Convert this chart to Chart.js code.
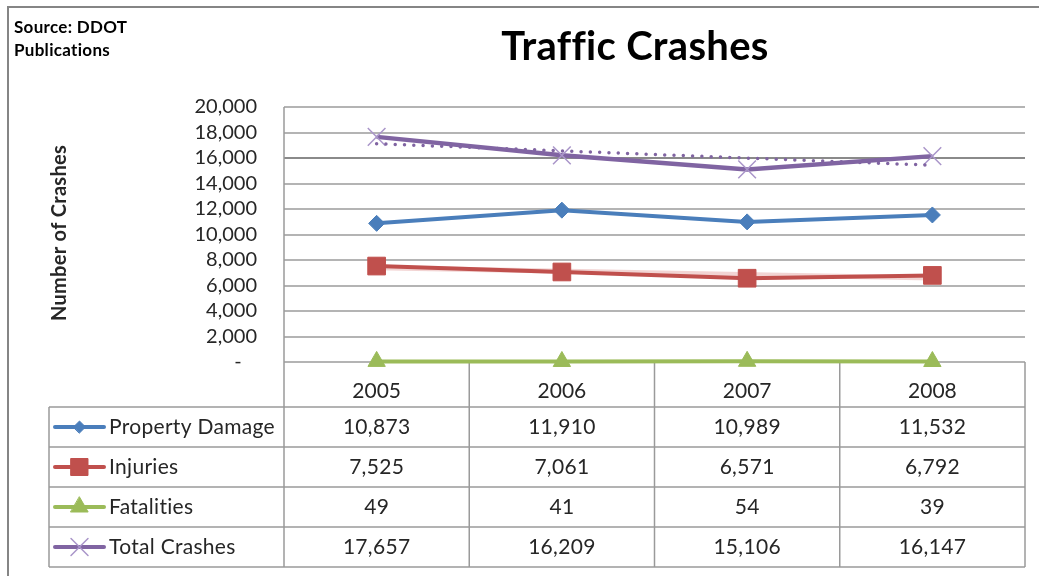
<!DOCTYPE html>
<html>
<head>
<meta charset="utf-8">
<title>Traffic Crashes</title>
<script src="https://cdn.jsdelivr.net/npm/chart.js"></script>
<style>
  html, body { margin: 0; padding: 0; background: #ffffff; }
  #wrap { width: 1039px; height: 576px; }
</style>
</head>
<body>
<div id="wrap"><canvas id="crashChart" width="1039" height="576"></canvas></div>
<script>
// Data
const years = ['2005', '2006', '2007', '2008'];
const propertyDamage = [10873, 11910, 10989, 11532];
const injuries = [7525, 7061, 6571, 6792];
const fatalities = [49, 41, 54, 39];
const totalCrashes = [17657, 16209, 15106, 16147];

// Trendline end points, middle left open
const totalTrend = [17120, null, null, 15430];
const injuriesTrend = [7390, null, null, 6590];

const yMin = 0;
const yMax = 20000;
const yStep = 2000;

const TEXT = '#262626';
const FONT = 'Lato, "Open Sans", sans-serif';

/**
 * Rows of the data table under the plot (also the legend)
 */
const SERIES = [
  { name: 'Property Damage', data: propertyDamage, color: '#4a7ebb', point: 'rectRot', radius: 8, keyRadius: 6 },
  { name: 'Injuries', data: injuries, color: '#c0504d', point: 'rect', radius: 12.5, keyRadius: 12 },
  { name: 'Fatalities', data: fatalities, color: '#9bbb59', point: 'triangle', radius: 10, keyRadius: 10 },
  { name: 'Total Crashes', data: totalCrashes, color: '#8064a2', point: 'crossRot', radius: 12.5, keyRadius: 12, markerColor: '#a995c9' },
];

const TABLE = { left: 49, top: 407, rowHeight: 40, keyX1: 55, keyX2: 104, labelX: 109 };

function fmt(v) {
  return v.toLocaleString('en-US');
}

function drawMarker(ctx, s, x, y, radius) {
  const opts = { pointStyle: s.point, radius: radius, rotation: 0, borderWidth: s.point === 'crossRot' ? 1.5 : 1 };
  ctx.save();
  ctx.fillStyle = s.color;
  ctx.strokeStyle = s.markerColor || s.color;
  ctx.lineWidth = opts.borderWidth;
  Chart.helpers.drawPoint(ctx, opts, x, y);
  ctx.restore();
}

/**
 * Frame, titles and the data table
 */
const sheetPlugin = {
  id: 'sheet',
  beforeDraw(chart) {
    const ctx = chart.ctx;
    ctx.save();
    ctx.fillStyle = '#ffffff';
    ctx.fillRect(0, 0, chart.width, chart.height);

    // outer frame (top and left visible)
    ctx.strokeStyle = '#858585';
    ctx.lineWidth = 2;
    ctx.beginPath();
    ctx.moveTo(8, 576);
    ctx.lineTo(8, 7);
    ctx.lineTo(1039, 7);
    ctx.stroke();

    // small spacing keeps "ffi"/"ti" from turning into ligatures
    ctx.letterSpacing = '0.3px';
    ctx.fillStyle = '#000000';
    ctx.textBaseline = 'alphabetic';
    ctx.textAlign = 'left';
    ctx.font = 'bold 17px ' + FONT;
    ctx.fillText('Source: DDOT', 14, 33);
    ctx.fillText('Publications', 14, 56);

    ctx.textAlign = 'center';
    ctx.font = 'bold 40px ' + FONT;
    ctx.fillText('Traffic Crashes', 635, 60);

    // y axis title
    ctx.translate(60, 233);
    ctx.rotate(-Math.PI / 2);
    ctx.font = 'bold 20px ' + FONT;
    ctx.textBaseline = 'middle';
    ctx.fillStyle = TEXT;
    ctx.fillText('Number of Crashes', 0, 0);
    ctx.restore();
  },
  beforeDatasetsDraw(chart) {
    const ctx = chart.ctx;
    const area = chart.chartArea;
    const x = chart.scales.x;
    const step = (x.right - x.left) / years.length;
    const bottom = TABLE.top + TABLE.rowHeight * SERIES.length;

    ctx.save();
    ctx.strokeStyle = '#9a9a9a';
    ctx.lineWidth = 1.5;
    ctx.beginPath();
    // plot left edge down through the table
    ctx.moveTo(area.left, area.top);
    ctx.lineTo(area.left, bottom);
    // column separators from the year row down
    for (let i = 0; i < years.length; i++) {
      const xr = x.getPixelForValue(i) + step / 2;
      ctx.moveTo(xr, area.bottom);
      ctx.lineTo(xr, bottom);
    }
    // row lines
    for (let r = 0; r <= SERIES.length; r++) {
      const y = TABLE.top + r * TABLE.rowHeight;
      ctx.moveTo(TABLE.left, y);
      ctx.lineTo(area.right, y);
    }
    ctx.moveTo(TABLE.left, TABLE.top);
    ctx.lineTo(TABLE.left, bottom);
    ctx.stroke();
    ctx.restore();
  },
  afterDraw(chart) {
    const ctx = chart.ctx;
    const x = chart.scales.x;

    ctx.save();
    ctx.letterSpacing = '0.3px';
    ctx.font = '21px ' + FONT;
    ctx.fillStyle = TEXT;
    ctx.textBaseline = 'middle';
    SERIES.forEach((s, r) => {
      const cy = TABLE.top + r * TABLE.rowHeight + TABLE.rowHeight / 2;

      // legend key
      ctx.strokeStyle = s.color;
      ctx.lineWidth = 4;
      ctx.lineCap = 'round';
      ctx.beginPath();
      ctx.moveTo(TABLE.keyX1, cy);
      ctx.lineTo(TABLE.keyX2, cy);
      ctx.stroke();
      drawMarker(ctx, s, (TABLE.keyX1 + TABLE.keyX2) / 2, cy, s.keyRadius);

      ctx.fillStyle = TEXT;
      ctx.textAlign = 'left';
      ctx.fillText(s.name, TABLE.labelX, cy);

      ctx.textAlign = 'center';
      s.data.forEach((v, i) => {
        ctx.fillText(fmt(v), x.getPixelForValue(i), cy);
      });
    });
    ctx.restore();
  },
};

function lineSet(s, order) {
  return {
    label: s.name,
    data: s.data,
    borderColor: s.color,
    borderWidth: s.point === 'crossRot' ? 4.5 : 4,
    backgroundColor: s.color,
    pointStyle: s.point,
    pointRadius: s.radius,
    pointBackgroundColor: s.color,
    pointBorderColor: s.markerColor || s.color,
    pointBorderWidth: s.point === 'crossRot' ? 1.5 : 1,
    tension: 0,
    clip: false,
    order: order,
  };
}

const ctx = document.getElementById('crashChart').getContext('2d');

new Chart(ctx, {
  type: 'line',
  data: {
    labels: years,
    datasets: [
      {
        label: 'Total trend',
        data: totalTrend,
        borderColor: '#8064a2',
        borderWidth: 3.5,
        borderDash: [0, 9.3],
        borderCapStyle: 'round',
        pointRadius: 0,
        spanGaps: true,
        clip: false,
        order: 0,
      },
      lineSet(SERIES[3], 1),
      lineSet(SERIES[0], 2),
      lineSet(SERIES[1], 3),
      lineSet(SERIES[2], 4),
      {
        label: 'Injuries trend',
        data: injuriesTrend,
        borderColor: 'rgba(226, 160, 158, 0.45)',
        borderWidth: 5,
        pointRadius: 0,
        spanGaps: true,
        clip: false,
        order: 9,
      },
    ],
  },
  options: {
    responsive: false,
    animation: false,
    devicePixelRatio: 1,
    layout: { padding: { left: 0, right: 14, top: 107, bottom: 169 } },
    plugins: {
      legend: { display: false },
      title: { display: false },
      tooltip: { enabled: false },
    },
    scales: {
      x: {
        offset: true,
        grid: { display: false },
        border: { display: false },
        ticks: {
          color: TEXT,
          font: { size: 21, family: FONT },
          padding: 9,
          maxRotation: 0,
        },
        afterFit: (scale) => { scale.height = 45; },
      },
      y: {
        min: yMin,
        max: yMax,
        grid: {
          color: (c) => (c.tick && c.tick.value === 16000 ? '#8a8a8a' : '#b4b4b4'),
          lineWidth: 2,
          drawTicks: false,
        },
        border: { display: false },
        ticks: {
          stepSize: yStep,
          autoSkip: false,
          color: TEXT,
          font: { size: 20, family: FONT },
          padding: 27,
          callback: (value) => (value === 0 ? '-   ' : fmt(value)),
        },
        afterFit: (scale) => { scale.width = 284; },
      },
    },
  },
  plugins: [sheetPlugin],
});
</script>
</body>
</html>
